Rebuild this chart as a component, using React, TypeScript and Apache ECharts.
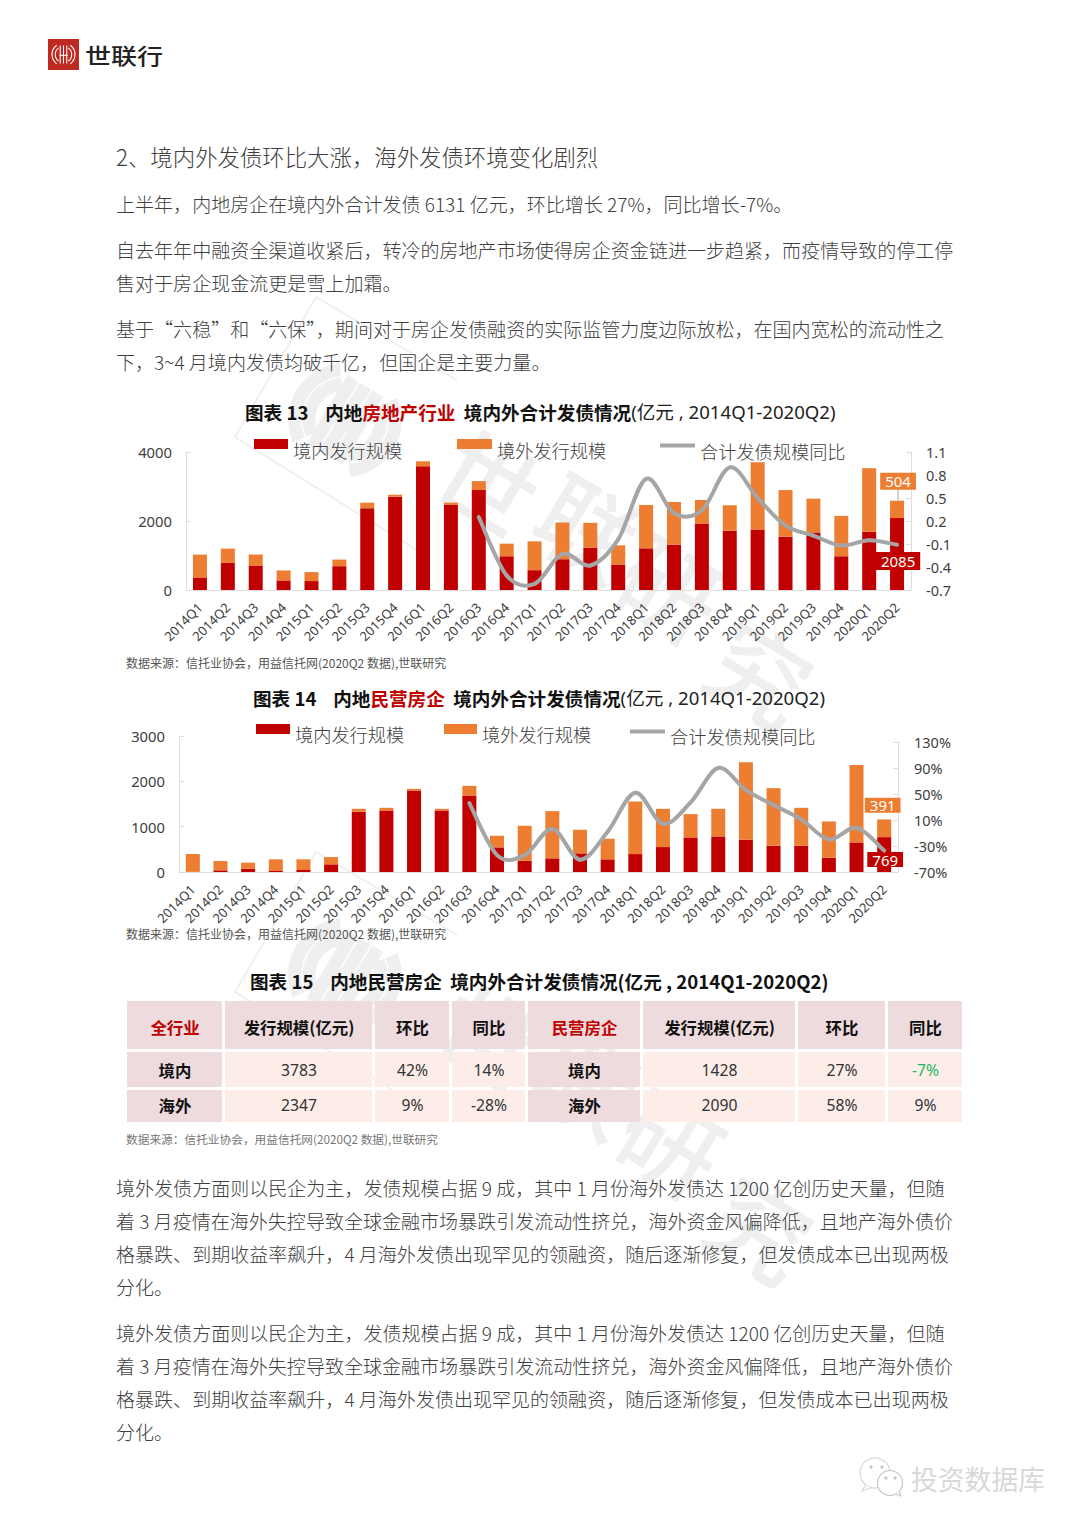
import React, { useEffect, useRef } from "react";
import * as echarts from "echarts";

const quarters = ["2014Q1","2014Q2","2014Q3","2014Q4","2015Q1","2015Q2","2015Q3","2015Q4","2016Q1","2016Q2","2016Q3","2016Q4","2017Q1","2017Q2","2017Q3","2017Q4","2018Q1","2018Q2","2018Q3","2018Q4","2019Q1","2019Q2","2019Q3","2019Q4","2020Q1","2020Q2"];
const sectorDomestic = [365,786,710,278,259,690,2369,2705,3587,2465,2897,978,575,892,1228,739,1209,1314,1928,1717,1755,1544,1669,978,1688,2085];
const sectorOverseas = [661,413,316,288,259,192,163,57,144,67,259,365,835,1065,719,556,1256,1238,681,739,1947,1353,978,1171,1842,504];
const sectorYoY = [null,null,null,null,null,null,null,null,null,null,0.25,-0.51,-0.62,-0.23,-0.38,-0.04,0.75,0.30,0.34,0.90,0.50,0.14,0.01,-0.12,-0.05,-0.11];
const privateDomestic = [5,37,73,22,44,169,1328,1357,1797,1357,1687,543,249,301,411,279,396,550,763,785,712,580,580,315,653,769];
const privateOverseas = [391,205,132,257,235,161,66,59,37,37,213,257,771,1042,521,455,1159,844,514,609,1709,1269,836,800,1709,391];
const privateYoY = [null,null,null,null,null,null,null,null,null,null,36,-44,-44,-4,-51,-8,52,4,37,90,56,33,11,-20,-2,-37];
const sectorYoYTicks = [-0.7,-0.4,-0.1,0.2,0.5,0.8,1.1];
const privateYoYTicks = [-70,-30,10,50,90,130];

const legendNames = ["境内发行规模","境外发行规模","合计发债规模同比"];

const heading = "2、境内外发债环比大涨，海外发债环境变化剧烈";
const bodyLines: [string, number][] = [
  ["上半年，内地房企在境内外合计发债 6131 亿元，环比增长 27%，同比增长-7%。",203],
  ["自去年年中融资全渠道收紧后，转冷的房地产市场使得房企资金链进一步趋紧，而疫情导致的停工停",249],
  ["售对于房企现金流更是雪上加霜。",282],
  ["基于“六稳”和“六保”，期间对于房企发债融资的实际监管力度边际放松，在国内宽松的流动性之",328],
  ["下，3~4 月境内发债均破千亿，但国企是主要力量。",361],
  ["境外发债方面则以民企为主，发债规模占据 9 成，其中 1 月份海外发债达 1200 亿创历史天量，但随",1187],
  ["着 3 月疫情在海外失控导致全球金融市场暴跌引发流动性挤兑，海外资金风偏降低，且地产海外债价",1220],
  ["格暴跌、到期收益率飙升，4 月海外发债出现罕见的领融资，随后逐渐修复，但发债成本已出现两极",1253],
  ["分化。",1286],
  ["境外发债方面则以民企为主，发债规模占据 9 成，其中 1 月份海外发债达 1200 亿创历史天量，但随",1332],
  ["着 3 月疫情在海外失控导致全球金融市场暴跌引发流动性挤兑，海外资金风偏降低，且地产海外债价",1365],
  ["格暴跌、到期收益率飙升，4 月海外发债出现罕见的领融资，随后逐渐修复，但发债成本已出现两极",1398],
  ["分化。",1431],
];
const sourceText = "数据来源：信托业协会，用益信托网(2020Q2 数据),世联研究";

const tableHeader = ["全行业","发行规模(亿元)","环比","同比","民营房企","发行规模(亿元)","环比","同比"];
const tableRowDomestic = ["境内","3783","42%","14%","境内","1428","27%","-7%"];
const tableRowOverseas = ["海外","2347","9%","-28%","海外","2090","58%","9%"];

const CJK = '"Noto Sans CJK SC","Noto Sans",sans-serif';
const LATIN = '"Noto Sans","Noto Sans CJK SC",sans-serif';
const RED = "#C00000";
const ORANGE = "#ED7D31";
const GRAY = "#A5A5A5";
const TEXT = "#404040";

function txt(text: string, x: number, y: number, o: any = {}) {
  const { z, scaleY, ...style } = o;
  return {
    type: "text", x, y, z: z ?? 1, silent: true, scaleY: scaleY ?? 1,
    style: { text, fontFamily: CJK, fontSize: 19.05, fontWeight: 300, fill: TEXT, align: "left", verticalAlign: "middle", ...style },
  };
}

function title(x: number, y: number, no: string, red: string) {
  const rich = {
    b: { fontFamily: CJK, fontWeight: 700, fontSize: 18.6, fill: "#111", color: "#111" },
    r: { fontFamily: CJK, fontWeight: 700, fontSize: 18.6, fill: RED, color: RED },
    n: { fontFamily: LATIN, fontWeight: 400, fontSize: 18.6, fill: "#222", color: "#222" },
  };
  return {
    type: "text", x, y, z: 1, silent: true,
    style: { text: `{b|图表 ${no}    内地}{r|${red}}{b|  境内外合计发债情况}{n|(亿元 , 2014Q1-2020Q2)}`, rich, verticalAlign: "middle", align: "left" },
  };
}

function logoMark(cx: number, cy: number, scale: number, color: string, lw: number, rotation: number, z: number) {
  const arcs = [14, 10].flatMap((dx) => [
    { type: "arc", shape: { cx: 0, cy: 0, r: dx, startAngle: 2.2, endAngle: 4.08 }, style: { stroke: color, lineWidth: lw, fill: "none" } },
    { type: "arc", shape: { cx: 0, cy: 0, r: dx, startAngle: -0.94, endAngle: 0.94 }, style: { stroke: color, lineWidth: lw, fill: "none" } },
  ]);
  const bars = [-4, 0, 4].map((dx) => ({ type: "line", shape: { x1: dx, y1: -11, x2: dx, y2: 11 }, style: { stroke: color, lineWidth: lw } }));
  const cross = { type: "line", shape: { x1: -5, y1: 1, x2: 5, y2: 1 }, style: { stroke: color, lineWidth: lw } };
  return { type: "group", x: cx, y: cy, scaleX: scale, scaleY: scale, rotation, z, silent: true, children: [...arcs, ...bars, cross].map((c) => ({ ...c, z, silent: true })) };
}

function watermark(dx: number, dy: number, chars: string[]) {
  const color = "#EFEFEF";
  const z = -10;
  const rot = (-31 * Math.PI) / 180;
  const pos: [number, number][] = [[490, 478], [590, 525], [673, 585], [762, 670]];
  const outline = {
    type: "polyline", z, silent: true,
    shape: { points: [[457 + dx, 380 + dy], [316 + dx, 297 + dy], [235 + dx, 437 + dy], [420 + dx, 552 + dy]] },
    style: { stroke: color, lineWidth: 2, fill: "none" },
  };
  const glyphs = chars.map((c, i) => ({
    type: "text", x: pos[i][0] + dx, y: pos[i][1] + dy, rotation: rot, z, silent: true,
    style: { text: c, fontFamily: CJK, fontWeight: 500, fontSize: 100, fill: color, align: "center", verticalAlign: "middle" },
  }));
  return [outline, logoMark(345 + dx, 420 + dy, 3.6, color, 3.6, rot, z), ...glyphs];
}

function tableCells() {
  const xs: [number, number][] = [[127,222],[225,372],[375,449],[452,525],[528,640],[643,795],[798,885],[888,962]];
  const ys: [number, number, string[], number][] = [[1001,1049,tableHeader,1027],[1052,1087,tableRowDomestic,1070],[1090,1122,tableRowOverseas,1105]];
  const out: any[] = [];
  ys.forEach(([y0, y1, row, yc], r) => {
    row.forEach((cell, c) => {
      const [x0, x1] = xs[c];
      const dark = r === 0 || c === 0 || c === 4;
      out.push({ type: "rect", z: 1, silent: true, shape: { x: x0, y: y0, width: x1 - x0, height: y1 - y0 }, style: { fill: dark ? "#EEDBDD" : "#FCEDE9" } });
      let fill = dark ? "#111" : "#333";
      if (r === 0 && (c === 0 || c === 4)) fill = RED;
      if (cell === "-7%") fill = "#22B864";
      out.push(txt(cell, (x0 + x1) / 2 + 0.5, yc, {
        z: 2, align: "center", fill, fontSize: dark ? 16.4 : 15.7, fontWeight: dark ? 700 : 400, fontFamily: dark ? CJK : LATIN,
      }));
    });
  });
  return out;
}

function legendAt(name: string, left: number, top: number, width: number, barHeight: number, textCentre: number) {
  // The icon's path reaches past the visible bar so that the label sits lower than the swatch, as in the reference.
  const total = textCentre * 2;
  return {
    data: [name], left, top, padding: 0, selectedMode: false, itemWidth: width, itemHeight: total,
    icon: `path://M0 0H${width}V${barHeight}H0Z M0 ${total}H0Z`,
    textStyle: { fontFamily: CJK, fontSize: 18.2, fontWeight: 300, color: TEXT },
  };
}

function xAxis(gridIndex: number, show: boolean) {
  return {
    type: "category", gridIndex, data: quarters, show,
    axisLine: { lineStyle: { color: "#E4DFDF" } },
    axisTick: { show: false },
    axisLabel: { rotate: 45, interval: 0, fontFamily: LATIN, fontSize: 13, color: TEXT, margin: 15 },
  };
}

function leftAxis(gridIndex: number, max: number, interval: number) {
  return {
    type: "value", gridIndex, min: 0, max, interval, position: "left",
    splitLine: { show: false },
    axisLine: { show: true, lineStyle: { color: "#DDDDDD" } },
    axisTick: { show: true, inside: true, length: 5, lineStyle: { color: "#DDDDDD" } },
    axisLabel: { fontFamily: LATIN, fontSize: 14.8, color: TEXT, margin: 14, formatter: (v: number) => String(v) },
  };
}

function rightAxis(gridIndex: number, ticks: number[], fmt: (v: number) => string, margin: number) {
  return {
    type: "value", gridIndex, min: ticks[0], max: ticks[ticks.length - 1], position: "right",
    splitLine: { show: false },
    axisLine: { show: true, lineStyle: { color: "#DDDDDD" } },
    axisTick: { show: true, inside: true, length: 5, customValues: ticks, lineStyle: { color: "#DDDDDD" } },
    axisLabel: { fontFamily: LATIN, fontSize: 14.5, color: TEXT, margin, customValues: ticks, formatter: fmt },
  };
}

function withLabel(values: number[], color: string, offset: [number, number], pad: number) {
  const last = values.length - 1;
  return values.map((value, i) =>
    i !== last
      ? value
      : {
          value,
          label: {
            show: true, position: "inside", offset, formatter: "{c}", color: "#fff", backgroundColor: color,
            fontFamily: LATIN, fontSize: 15, padding: [pad, 5, pad, 5],
          },
        }
  );
}

function bars(x: number, y: number, stack: string, dom: any[], over: any[], extra: any = {}) {
  return [
    { name: legendNames[0], type: "bar", stack, xAxisIndex: x, yAxisIndex: y, barWidth: 14, data: dom, itemStyle: { color: RED } },
    { name: legendNames[1], type: "bar", stack, xAxisIndex: x, yAxisIndex: y, barWidth: 14, data: over, itemStyle: { color: ORANGE }, ...extra },
  ];
}

// Excel-style smoothed line: each segment is a Catmull-Rom curve between two data points, placed by the axes' scale.
function line(x: number, y: number, values: (number | null)[]) {
  return {
    name: legendNames[2], type: "custom", coordinateSystem: "cartesian2d", xAxisIndex: x, yAxisIndex: y, z: 5,
    itemStyle: { color: GRAY },
    data: values.map((v, i) => [i, v]),
    encode: { x: 0, y: 1 },
    renderItem: (params: any, api: any) => {
      const i = params.dataIndex;
      const v1 = values[i];
      const v2 = values[i + 1];
      if (v1 == null || v2 == null) return null;
      const at = (k: number) => {
        const j = values[k] == null ? (k < i ? i : i + 1) : k;
        return api.coord([j, values[j] as number]);
      };
      const p0 = at(i - 1);
      const p1 = at(i);
      const p2 = at(i + 1);
      const p3 = at(i + 2 < values.length ? i + 2 : i + 1);
      return {
        type: "bezierCurve",
        shape: {
          x1: p1[0], y1: p1[1], x2: p2[0], y2: p2[1],
          cpx1: p1[0] + (p2[0] - p0[0]) / 6, cpy1: p1[1] + (p2[1] - p0[1]) / 6,
          cpx2: p2[0] - (p3[0] - p1[0]) / 6, cpy2: p2[1] - (p3[1] - p1[1]) / 6,
        },
        style: { stroke: GRAY, lineWidth: 4, fill: "none", lineCap: "round" },
      };
    },
  };
}

function buildOption() {
  const elements: any[] = [
    ...watermark(0, 0, ["世", "联", "研", "究"]),
    ...watermark(0, 555, ["世", "联", "研", "究"]),
    { type: "rect", z: 1, silent: true, shape: { x: 48, y: 39, width: 31, height: 31 }, style: { fill: "#BE2A22" } },
    logoMark(63.5, 54.5, 0.82, "#fff", 1.3, 0, 2),
    txt("世联行", 85, 54, { fontSize: 26, fontWeight: 500, fill: "#222", scaleY: 0.85 }),
    txt(heading, 116, 155.5, { fontSize: 22.4 }),
    ...bodyLines.map(([t, y]) => txt(t, 116, y)),
    title(245, 411, "13", "房地产行业"),
    title(253, 697, "14", "民营房企"),
    txt("图表 15    内地民营房企  境内外合计发债情况(亿元 , 2014Q1-2020Q2)", 250, 980, { fontSize: 18.6, fontWeight: 700, fill: "#111" }),
    txt(sourceText, 126, 662, { fontSize: 12, fill: "#555", fontWeight: 400 }),
    txt(sourceText, 126, 933, { fontSize: 12, fill: "#555", fontWeight: 400 }),
    txt(sourceText, 126, 1138, { fontSize: 11.7, fill: "#777", fontWeight: 400 }),
    ...tableCells(),
    { type: "circle", z: 1, silent: true, shape: { cx: 875, cy: 1473, r: 15 }, style: { fill: "#fff", stroke: "#D8D8D8", lineWidth: 1.2 } },
    { type: "polyline", z: 1, silent: true, shape: { points: [[866, 1485], [862, 1491], [871, 1488]] }, style: { fill: "#fff", stroke: "#D8D8D8", lineWidth: 1.2 } },
    { type: "circle", z: 1, silent: true, shape: { cx: 890, cy: 1483, r: 12.5 }, style: { fill: "#fff", stroke: "#C8C8C8", lineWidth: 1.2 } },
    { type: "polyline", z: 1, silent: true, shape: { points: [[896, 1494], [901, 1496], [899, 1491]] }, style: { fill: "#fff", stroke: "#C8C8C8", lineWidth: 1.2 } },
    ...[[871, 1467], [882, 1467], [886, 1478], [895, 1478]].map(([cx, cy]) => ({ type: "circle", z: 2, silent: true, shape: { cx, cy, r: 1.6 }, style: { fill: "#C4C4C4" } })),
    txt("投资数据库", 911, 1478, { fontSize: 26.8, fontWeight: 400, fill: "#D8D8D8", textShadowColor: "#999", textShadowOffsetX: 0.8, textShadowOffsetY: 0.8, textShadowBlur: 0 }),
  ];
  const yoyFmt = (v: number) => v.toFixed(1);
  const leader = {
    labelLine: { show: true, lineStyle: { color: "#A6A6A6", width: 1 } },
    labelLayout: (p: any) => (p.dataIndex === quarters.length - 1 ? { dx: 1, dy: -28 } : {}),
  };
  return {
    animation: false,
    backgroundColor: "#fff",
    grid: [
      { left: 186, width: 725, top: 452, height: 138 },
      { left: 179, width: 719, top: 736, height: 136 },
      { left: 179, width: 719, top: 742, height: 130 },
    ],
    legend: [
      legendAt(legendNames[0], 254, 439, 34, 10, 10.5),
      legendAt(legendNames[1], 457, 439, 35, 10, 10.5),
      legendAt(legendNames[2], 660, 442, 35, 4, 7.5),
      legendAt(legendNames[0], 256, 724, 34, 10, 9.5),
      legendAt(legendNames[1], 444, 724, 33, 10, 9.5),
      legendAt(legendNames[2], 630, 727, 35, 4, 6.5),
    ],
    xAxis: [xAxis(0, true), xAxis(1, true), xAxis(2, false)],
    yAxis: [
      leftAxis(0, 4000, 2000),
      rightAxis(0, sectorYoYTicks, yoyFmt, 15),
      leftAxis(1, 3000, 1000),
      rightAxis(2, privateYoYTicks, (v: number) => `${v}%`, 16),
    ],
    series: [
      ...bars(0, 0, "sector", withLabel(sectorDomestic, RED, [1, 7], 1.5), withLabel(sectorOverseas, ORANGE, [0, 0], 1), leader),
      line(0, 1, sectorYoY),
      ...bars(1, 2, "private", withLabel(privateDomestic, RED, [1, 5], 0), withLabel(privateOverseas, ORANGE, [-1.5, -23], 0)),
      line(2, 3, privateYoY),
    ],
    graphic: { elements },
  };
}

export default function App() {
  const ref = useRef<HTMLDivElement>(null);
  useEffect(() => {
    document.body.style.margin = "0";
    const chart = echarts.init(ref.current!, undefined, { renderer: "svg" });
    chart.setOption(buildOption() as any);
    return () => chart.dispose();
  }, []);
  return <div ref={ref} style={{ width: 1080, height: 1527 }} />;
}
